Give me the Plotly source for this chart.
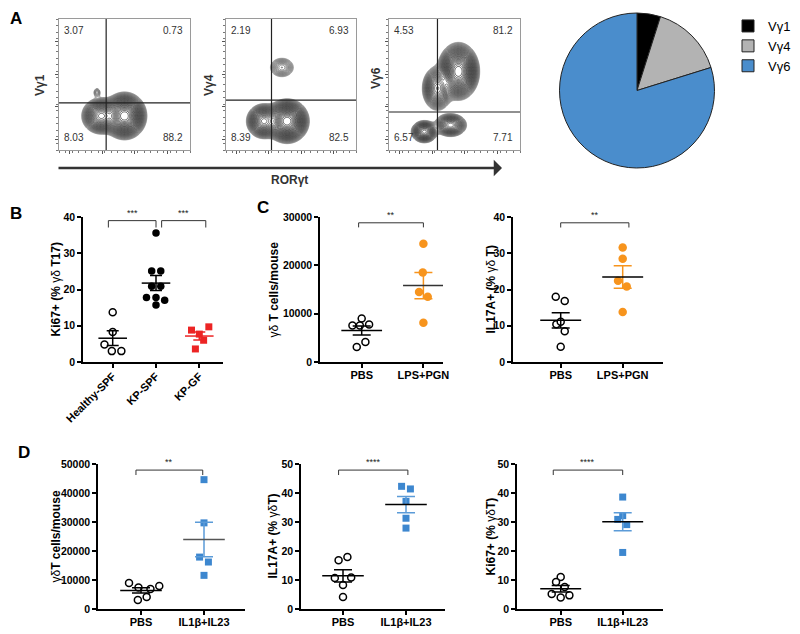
import numpy as np
import plotly.graph_objects as go

# the page body adds an 8 px margin, so the figure is drawn 8 px smaller and
# every reference pixel position is shifted by OFF
OFF = 8
W, H = 800 - OFF, 634 - OFF
FONT = "Arial, 'Liberation Sans', sans-serif"

# ---------------- panel A data ----------------
FLOW_YLABELS = ["Vγ1", "Vγ4", "Vγ6"]
FLOW_QUADS = [  # top-left, top-right, bottom-left, bottom-right
    ["3.07", "0.73", "8.03", "88.2"],
    ["2.19", "6.93", "8.39", "82.5"],
    ["4.53", "81.2", "6.57", "7.71"],
]
FLOW_GATE_X = [0.36, 0.35, 0.37]
FLOW_GATE_Y = [0.36, 0.38, 0.29]
# populations: (centre x, centre y, spread x, spread y, weight)
FLOW_POPS = [
    [(0.50, 0.26, 0.058, 0.062, 1.0), (0.32, 0.26, 0.055, 0.052, 0.45),
     (0.29, 0.44, 0.017, 0.022, 0.03)],
    [(0.47, 0.22, 0.058, 0.058, 1.0), (0.29, 0.22, 0.050, 0.050, 0.45),
     (0.43, 0.63, 0.050, 0.040, 0.06)],
    [(0.53, 0.60, 0.055, 0.075, 1.0), (0.37, 0.47, 0.045, 0.065, 0.35),
     (0.27, 0.14, 0.040, 0.034, 0.30), (0.47, 0.19, 0.050, 0.036, 0.25)],
]

VG_LABELS = ["Vγ1", "Vγ4", "Vγ6"]
VG_SHARE = [4.9, 15.3, 79.8]
VG_COLORS = ["#000000", "#b3b3b3", "#4a8dcc"]

# ---------------- panel B data ----------------
B_GROUPS = ["Healthy-SPF", "KP-SPF", "KP-GF"]
B_HEALTHY = [13.7, 8.3, 4.8, 3.0, 3.0]
B_KP_SPF = [35.6, 25.1, 25.1, 20.9, 20.9, 17.8, 17.8, 17.0, 15.7]
B_KP_GF = [8.8, 9.7, 7.7, 6.0, 3.6]

# ---------------- panel C data ----------------
C_GROUPS = ["PBS", "LPS+PGN"]
C_CELLS_PBS = [9000, 7550, 7550, 7760, 4160, 3120]
C_CELLS_LPS = [24450, 18500, 14480, 13510, 8100]
C_IL17_PBS = [18.0, 16.8, 10.4, 11.1, 8.5, 4.2]
C_IL17_LPS = [31.6, 28.5, 22.4, 20.8, 13.8]

# ---------------- panel D data ----------------
D_GROUPS = ["PBS", "IL1β+IL23"]
D_CELLS_PBS = [8970, 7450, 6900, 7930, 4140, 3100]
D_CELLS_IL = [44600, 29700, 17900, 16200, 11600]
D_IL17_PBS = [17.9, 16.8, 10.7, 10.9, 8.3, 4.1]
D_IL17_IL = [42.3, 41.4, 37.1, 31.3, 27.9]
D_KI67_PBS = [11.0, 9.3, 7.6, 5.2, 4.0, 4.7]
D_KI67_IL = [38.6, 32.2, 30.9, 29.1, 19.5]

# horizontal scatter of the points (category units), layout only
JITTER = {
    "B0": [0, 0, -0.19, -0.02, 0.2],
    "B1": [0, -0.1, 0.11, -0.1, 0.11, -0.22, 0.0, 0.2, 0.0],
    "B2": [-0.18, 0.22, 0.0, 0.1, -0.09],
    "C0": [0, -0.15, -0.03, 0.12, 0.06, -0.08],
    "C1": [0, -0.01, -0.07, 0.07, 0],
    "C2": [-0.08, 0.065, -0.07, 0.0, 0.065, 0.0],
    "C3": [0, 0, -0.075, 0.065, 0],
    "D0": [-0.19, -0.04, 0.15, 0.29, 0.09, -0.05],
    "D1": [0, 0, -0.07, 0.07, 0],
    "D2": [0.07, -0.07, -0.13, 0.13, 0, 0],
    "D3": [-0.07, 0.07, 0, 0, 0],
    "D4": [0, -0.075, 0.065, -0.145, 0, 0.14],
    "D5": [0, 0, -0.08, 0.065, 0],
}

OPEN = dict(symbol="circle", size=7, color="white", line=dict(color="black", width=1.5))
BLACK = dict(symbol="circle", size=7.5, color="black")
RED = dict(symbol="square", size=7, color="#ec2424")
ORANGE = dict(symbol="circle", size=8.5, color="#f7941d")
BLUE = dict(symbol="square", size=7, color="#3d87cf")


def px(x):
    return (x - OFF) / W


def py(y):
    return 1 - (y - OFF) / H


def xdom(a, b):
    return [px(a), px(b)]


def ydom(top, bottom):
    return [py(bottom), py(top)]


def ax_names(n):
    s = "" if n == 1 else str(n)
    return f"x{s}", f"y{s}", f"xaxis{s}", f"yaxis{s}"


def vlabel(text, x, y, size=12, color="black"):
    return dict(text=text, xref="paper", yref="paper", x=px(x), y=py(y), textangle=-90,
                xanchor="center", yanchor="middle", showarrow=False,
                font=dict(size=size, color=color))


fig = go.Figure()
annotations = []
shapes = []
layout = {}

# ---------------- flow plots ----------------
FLOW_X_PX = [(59, 190), (226, 356), (389, 520)]
FLOW_YLABEL_X = [40, 209, 376]
FLOW_YLABEL_Y = [85, 85, 78]
grid = np.linspace(0, 1, 170)
gx, gy = np.meshgrid(grid, grid)

for k in range(3):
    xa, ya, xkey, ykey = ax_names(k + 1)
    dens = np.zeros_like(gx)
    for cx, cy, sx, sy, w in FLOW_POPS[k]:
        dens += w * np.exp(-0.5 * (((gx - cx) / sx) ** 2 + ((gy - cy) / sy) ** 2))
    z = np.log10(dens / dens.max() + 1e-9)
    fig.add_trace(go.Contour(
        x=grid, y=grid, z=z, xaxis=xa, yaxis=ya,
        contours=dict(coloring="lines", start=-1.9, end=-0.02, size=0.045),
        line=dict(width=0.6, smoothing=1),
        colorscale=[[0, "#8a8a8a"], [0.35, "#444444"], [1, "#000000"]],
        showscale=False, hoverinfo="skip",
    ))
    a, b = FLOW_X_PX[k]
    axis_common = dict(range=[0, 1], showline=True, mirror=True, linecolor="#9a9a9a",
                       linewidth=1, showgrid=False, zeroline=False, showticklabels=False,
                       ticks="outside", ticklen=3, tickcolor="#555", tick0=0.08, dtick=0.25,
                       automargin=False,
                       minor=dict(ticks="outside", ticklen=2, dtick=0.05, tickcolor="#777"))
    layout[xkey] = dict(domain=xdom(a, b), anchor=ya, **axis_common)
    layout[ykey] = dict(domain=ydom(19, 150), anchor=xa, **axis_common)
    shapes.append(dict(type="line", xref=xa, yref=ya, x0=FLOW_GATE_X[k], x1=FLOW_GATE_X[k],
                       y0=0, y1=1, line=dict(color="#222", width=1.2)))
    shapes.append(dict(type="line", xref=xa, yref=ya, x0=0, x1=1, y0=FLOW_GATE_Y[k],
                       y1=FLOW_GATE_Y[k], line=dict(color="#222", width=1.2)))
    q = FLOW_QUADS[k]
    for txt, xx, yy, xan, yan in [(q[0], 0.02, 0.97, "left", "top"), (q[1], 0.96, 0.97, "right", "top"),
                                  (q[2], 0.02, 0.04, "left", "bottom"), (q[3], 0.96, 0.04, "right", "bottom")]:
        annotations.append(dict(text=txt, xref=f"{xa} domain", yref=f"{ya} domain", x=xx, y=yy,
                                xanchor=xan, yanchor=yan, showarrow=False,
                                font=dict(size=10, color="#333")))
    annotations.append(vlabel(f"<b>{FLOW_YLABELS[k]}</b>", FLOW_YLABEL_X[k], FLOW_YLABEL_Y[k],
                              color="#333"))

annotations.append(dict(x=px(502), y=py(168), xref="paper", yref="paper", ax=-445, ay=0,
                        axref="pixel", ayref="pixel", showarrow=True, arrowhead=1, arrowsize=1.1,
                        arrowwidth=2.5, arrowcolor="#333", text=""))
annotations.append(dict(text="<b>RORγt</b>", xref="paper", yref="paper", x=px(289), y=py(180),
                        xanchor="center", yanchor="middle", showarrow=False,
                        font=dict(size=12, color="#333")))

# ---------------- pie ----------------
fig.add_trace(go.Pie(
    labels=VG_LABELS, values=VG_SHARE, sort=False, direction="clockwise", rotation=0,
    marker=dict(colors=VG_COLORS, line=dict(color="#222", width=1)),
    textinfo="none", hoverinfo="label+percent",
    domain=dict(x=xdom(559, 715), y=ydom(13, 168)),
))

# ---------------- dot plots ----------------
PANELS = [
    dict(n=4, groups=B_GROUPS, data=[B_HEALTHY, B_KP_SPF, B_KP_GF], jit=["B0", "B1", "B2"],
         marker=[OPEN, BLACK, RED], mean_c=["black", "black", "#ec2424"],
         sem_c=["black", "black", "#ec2424"], x_px=(83, 223), cat0=112.7, step=43.3,
         y_px=(217, 362), yr=40, dtick=10, cap=6, rot=True,
         title="<b>Ki67+ (% </b>γδ<b> T17)</b>", title_x=55,
         brackets=[(-0.1, 1.0, 39.0, 37.1, "***"), (1.13, 2.15, 39.0, 37.1, "***")]),
    dict(n=5, groups=C_GROUPS, data=[C_CELLS_PBS, C_CELLS_LPS], jit=["C0", "C1"],
         marker=[OPEN, ORANGE], mean_c=["black", "#333"], sem_c=["black", "#f7941d"],
         x_px=(320, 443), cat0=361.7, step=61.7, y_px=(217, 362), yr=30000, dtick=10000,
         cap=9, rot=False, title="γδ<b> T cells/mouse</b>", title_x=273,
         brackets=[(-0.05, 1.0, 28800, 27850, "**")]),
    dict(n=6, groups=C_GROUPS, data=[C_IL17_PBS, C_IL17_LPS], jit=["C2", "C3"],
         marker=[OPEN, ORANGE], mean_c=["black", "black"], sem_c=["black", "#f7941d"],
         x_px=(513, 663), cat0=560.7, step=62, y_px=(217, 362), yr=40, dtick=10,
         cap=9, rot=False, title="<b>IL17A+ (% </b>γδ<b> T)</b>", title_x=490,
         brackets=[(0.0, 1.1, 38.4, 37.1, "**")]),
    dict(n=7, groups=D_GROUPS, data=[D_CELLS_PBS, D_CELLS_IL], jit=["D0", "D1"],
         marker=[OPEN, BLUE], mean_c=["black", "#555"], sem_c=["black", "#5b9bd8"],
         x_px=(98, 245), cat0=141, step=63, y_px=(464, 609), yr=50000, dtick=10000,
         cap=9, rot=False, title="γδ<b>T cells/mouse</b>", title_x=55,
         brackets=[(-0.08, 0.98, 47900, 46200, "**")]),
    dict(n=8, groups=D_GROUPS, data=[D_IL17_PBS, D_IL17_IL], jit=["D2", "D3"],
         marker=[OPEN, BLUE], mean_c=["black", "black"], sem_c=["black", "#5b9bd8"],
         x_px=(301, 445), cat0=343, step=63, y_px=(464, 609), yr=50, dtick=10,
         cap=9, rot=False, title="<b>IL17A+ (% </b>γδ<b>T)</b>", title_x=272,
         brackets=[(-0.07, 1.03, 47.9, 46.2, "****")]),
    dict(n=9, groups=D_GROUPS, data=[D_KI67_PBS, D_KI67_IL], jit=["D4", "D5"],
         marker=[OPEN, BLUE], mean_c=["black", "black"], sem_c=["black", "#5b9bd8"],
         x_px=(517, 663), cat0=560.7, step=62, y_px=(464, 609), yr=50, dtick=10,
         cap=9, rot=False, title="<b>Ki67+ (% </b>γδ<b>T)</b>", title_x=490,
         brackets=[(-0.12, 1.0, 47.9, 46.2, "****")]),
]

for p in PANELS:
    xa, ya, xkey, ykey = ax_names(p["n"])
    for i, vals in enumerate(p["data"]):
        vals = np.asarray(vals, dtype=float)
        xs = i + np.asarray(JITTER[p["jit"][i]])
        fig.add_trace(go.Scatter(x=xs, y=vals, mode="markers", marker=p["marker"][i],
                                 xaxis=xa, yaxis=ya, cliponaxis=False, hoverinfo="y"))
        mean = vals.mean()
        sem = vals.std(ddof=1) / np.sqrt(len(vals))
        fig.add_trace(go.Scatter(x=[i], y=[mean], mode="markers", xaxis=xa, yaxis=ya,
                                 marker=dict(size=1, color="rgba(0,0,0,0)"), cliponaxis=False,
                                 error_y=dict(type="data", array=[sem], width=p["cap"],
                                              thickness=1.5, color=p["sem_c"][i]),
                                 hoverinfo="skip"))
        fig.add_trace(go.Scatter(x=[i], y=[mean], mode="markers", xaxis=xa, yaxis=ya,
                                 marker=dict(size=1, color="rgba(0,0,0,0)"), cliponaxis=False,
                                 error_x=dict(type="data", array=[0.33], width=0,
                                              thickness=1.5, color=p["mean_c"][i]),
                                 hoverinfo="skip"))
    for x0, x1, ytop, ylow, stars in p["brackets"]:
        fig.add_trace(go.Scatter(x=[x0, x0, x1, x1], y=[ylow, ytop, ytop, ylow], mode="lines",
                                 line=dict(color="#333", width=1), xaxis=xa, yaxis=ya,
                                 cliponaxis=False, hoverinfo="skip"))
        annotations.append(dict(text=stars, xref=xa, yref=ya, x=(x0 + x1) / 2, y=ytop,
                                yanchor="bottom", yshift=1, showarrow=False,
                                font=dict(size=9, color="#222")))
    a, b = p["x_px"]
    xr = [(a - p["cat0"]) / p["step"], (b - p["cat0"]) / p["step"]]
    layout[xkey] = dict(
        domain=xdom(a, b), anchor=ya, range=xr, showline=True, linecolor="black", linewidth=1.5,
        ticks="outside", ticklen=4, tickwidth=1.5, tickcolor="black", automargin=False,
        tickvals=list(range(len(p["groups"]))), ticktext=p["groups"],
        tickangle=-45 if p["rot"] else 0, showgrid=False, zeroline=False,
        ticklabelstandoff=-2,
        tickfont=dict(size=11, color="black", weight="bold"))
    top, bot = p["y_px"]
    layout[ykey] = dict(
        domain=ydom(top, bot), anchor=xa, range=[0, p["yr"]], dtick=p["dtick"], showline=True,
        linecolor="black", linewidth=1.5, ticks="outside", ticklen=4, tickwidth=1.5,
        tickcolor="black", showgrid=False, zeroline=False, tickformat="d", automargin=False,
        tickfont=dict(size=10.5, color="black", weight="bold"))
    annotations.append(vlabel(p["title"], p["title_x"], (top + bot) / 2))

# panel letters
for letter, lx, ly in [("A", 16, 19), ("B", 16, 213), ("C", 263, 208), ("D", 24, 452)]:
    annotations.append(dict(text=f"<b>{letter}</b>", xref="paper", yref="paper", x=px(lx),
                            y=py(ly), xanchor="center", yanchor="middle", showarrow=False,
                            font=dict(size=17, color="black")))

fig.update_layout(
    width=W, height=H, margin=dict(l=0, r=0, t=0, b=0, autoexpand=False),
    paper_bgcolor="white", plot_bgcolor="white",
    font=dict(family=FONT, color="black"),
    showlegend=True,
    legend=dict(x=px(728), y=py(11), xanchor="left", yanchor="top",
                font=dict(size=13, color="black"), bgcolor="rgba(0,0,0,0)",
                tracegroupgap=0, itemwidth=30),
    annotations=annotations, shapes=shapes,
    **layout,
)
for tr in fig.data:
    if tr.type != "pie":
        tr.showlegend = False

fig.write_html("out.html")
